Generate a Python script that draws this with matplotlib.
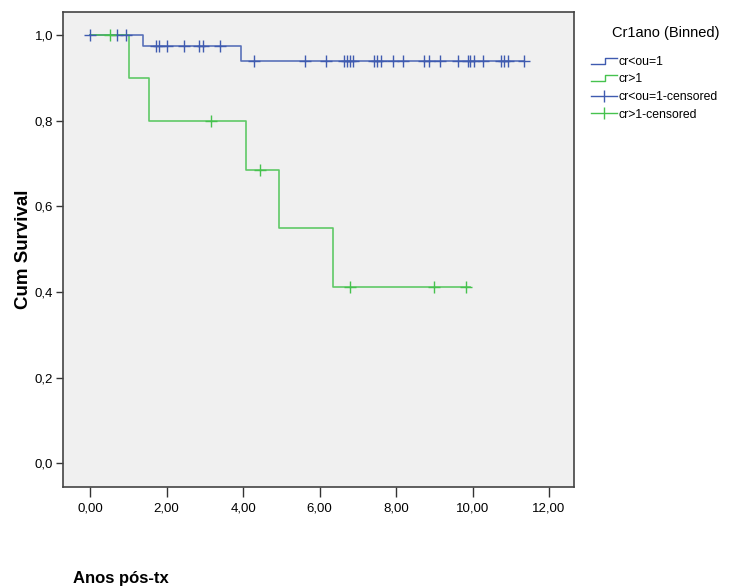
import numpy as np
import matplotlib
matplotlib.use("Agg")
import matplotlib.pyplot as plt
from matplotlib.lines import Line2D
from matplotlib.legend_handler import HandlerBase

plt.rcParams['font.family'] = ['Liberation Sans', 'DejaVu Sans']

# survival steps (time, cumulative survival after event)
blue_t = [0.0, 1.38, 3.94, 11.35]
blue_s = [1.0, 0.975, 0.940, 0.940]
green_t = [0.0, 1.03, 1.53, 4.08, 4.95, 6.36, 9.93]
green_s = [1.0, 0.90, 0.80, 0.6857, 0.5486, 0.4114, 0.4114]

# censored observations
blue_cens = [0.0, 0.70, 0.94, 1.73, 1.80, 2.02, 2.46, 2.84, 2.95, 3.40, 4.29,
             5.62, 6.16, 6.65, 6.71, 6.80, 6.88, 7.43, 7.51, 7.61, 7.93, 8.19,
             8.72, 8.87, 9.15, 9.63, 9.89, 9.93, 10.05, 10.28, 10.75, 10.81,
             10.94, 11.35]
green_cens = [0.52, 3.16, 4.44, 6.80, 8.98, 9.82]

x_ticks = [0, 2, 4, 6, 8, 10, 12]
y_ticks = [0.0, 0.2, 0.4, 0.6, 0.8, 1.0]
labels = ["cr<ou=1", "cr>1", "cr<ou=1-censored", "cr>1-censored"]

BLUE = "#3f5bb0"
GREEN = "#46c24e"


def surv_at(ts, ss, x):
    idx = np.searchsorted(ts, x, side="right") - 1
    return np.array(ss)[idx]


class StepHandler(HandlerBase):
    def create_artists(self, legend, orig, xd, yd, w, h, fs, trans):
        xs = [xd, xd + w * 0.55, xd + w * 0.55, xd + w]
        ys = [yd + h * 0.15, yd + h * 0.15, yd + h * 0.85, yd + h * 0.85]
        ln = Line2D(xs, ys, color=orig.get_color(), lw=1.0, transform=trans)
        return [ln]


fig = plt.figure(figsize=(7.32, 5.87), dpi=100)
ax = fig.add_axes([0.086, 0.170, 0.698, 0.810])
ax.set_facecolor("#f0f0f0")

l1, = ax.step(blue_t, blue_s, where="post", color=BLUE, lw=1.2, alpha=0.85)
l2, = ax.step(green_t, green_s, where="post", color=GREEN, lw=1.2, alpha=0.85)
ax.plot(blue_cens, surv_at(blue_t, blue_s, blue_cens), ls="none",
        marker="+", ms=8, mew=1.0, color=BLUE)
ax.plot(green_cens, surv_at(green_t, green_s, green_cens), ls="none",
        marker="+", ms=8, mew=1.0, color=GREEN)

ax.set_xlim(-0.71, 12.65)
ax.set_ylim(-0.056, 1.054)
ax.set_xticks(x_ticks)
ax.set_xticklabels([f"{v:.2f}".replace(".", ",") for v in x_ticks], fontsize=9.5)
ax.set_yticks(y_ticks)
ax.set_yticklabels([f"{v:.1f}".replace(".", ",") for v in y_ticks], fontsize=9.5)
ax.tick_params(axis="x", length=7, width=1, color="#333333", pad=4)
ax.tick_params(axis="y", length=5, width=1, color="#333333", pad=2)
for sp in ax.spines.values():
    sp.set_color("#444444")
    sp.set_linewidth(1.2)

ax.set_ylabel("Cum Survival", fontsize=13.5, fontweight="bold", labelpad=2)
fig.text(0.100, 0.006, "Anos pós-tx", fontsize=12, fontweight="bold")

# legend title and entries
c1 = Line2D([], [], color=BLUE, lw=1.0, marker="|", ms=9, mew=1.0)
c2 = Line2D([], [], color=GREEN, lw=1.0, marker="|", ms=9, mew=1.0)
fig.text(666 / 732, 1 - 33 / 587, "Cr1ano (Binned)", fontsize=10.5,
         ha="center", va="center")
leg = fig.legend([l1, l2, c1, c2], labels, loc="upper left",
                 bbox_to_anchor=(591 / 732, 1 - 56 / 587), frameon=False,
                 fontsize=8.8, borderpad=0, borderaxespad=0, numpoints=1,
                 handler_map={l1: StepHandler(), l2: StepHandler()},
                 handlelength=2.1, handletextpad=0.15, labelspacing=0.45)

fig.savefig("out.png", dpi=100)
